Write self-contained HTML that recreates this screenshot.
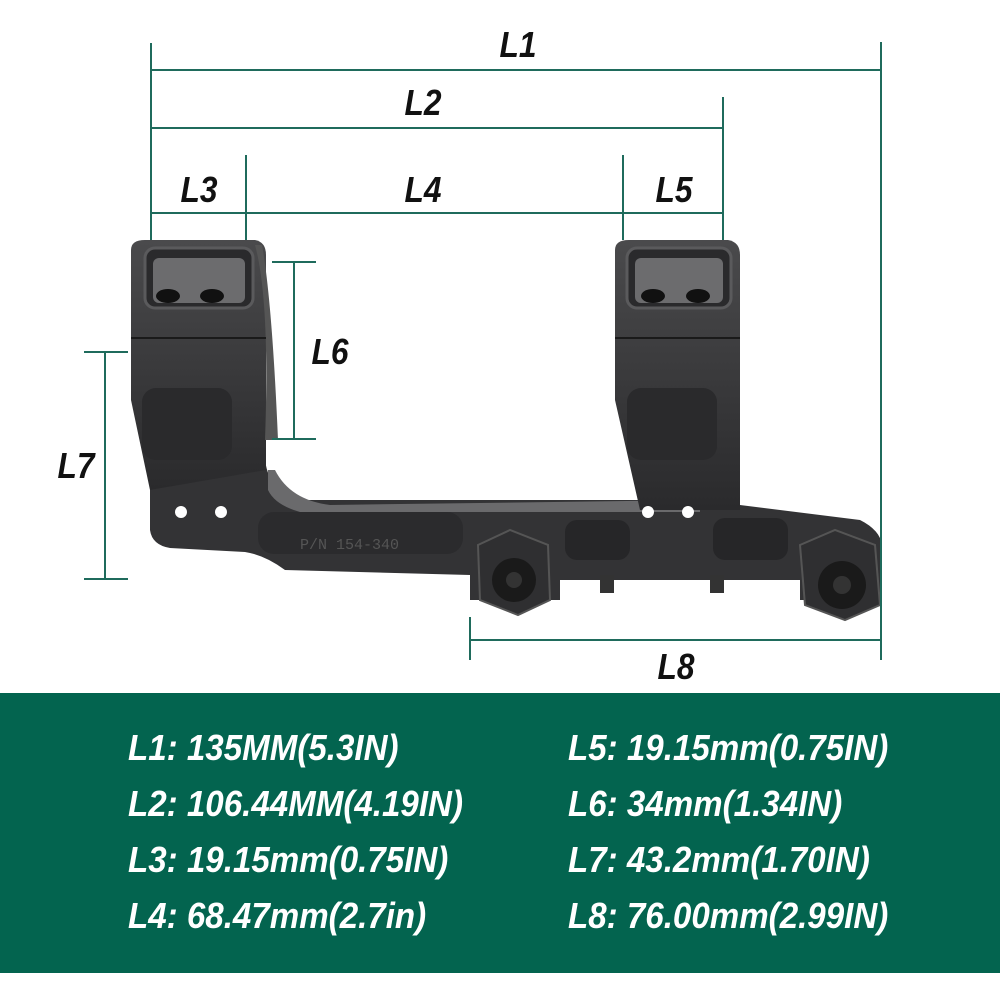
<!DOCTYPE html>
<html><head><meta charset="utf-8"><style>
html,body{margin:0;padding:0;background:#fff;}
body{width:1000px;height:1000px;position:relative;overflow:hidden;font-family:"Liberation Sans Narrow","Liberation Sans",sans-serif;}
.lbl{position:absolute;font-weight:bold;font-style:italic;font-size:36px;color:#111;transform:translate(-50%,-50%) scaleX(0.88);line-height:1;}
.panel{position:absolute;left:0;top:693px;width:1000px;height:280px;background:#03644f;}
.row{position:absolute;color:#fff;font-weight:bold;font-style:italic;font-size:36px;line-height:1;white-space:nowrap;transform-origin:left center;transform:scaleX(0.92);}
</style></head><body>
<svg width="1000" height="700" style="position:absolute;left:0;top:0">
<defs>
<linearGradient id="g" x1="0" y1="0" x2="0" y2="1"><stop offset="0" stop-color="#4a4a4c"/><stop offset="1" stop-color="#2a2a2c"/></linearGradient>
</defs>
<path d="M150,480 L150,530 Q152,545 170,548 L245,552 Q265,555 285,570 L470,575 L470,600 L560,600 L560,580 L800,580 L800,600 L880,600 L882,545 Q880,530 860,520 L740,505 L740,470 L700,470 L700,500 L300,500 Q270,495 265,460 L265,470 L150,470 Z" fill="#333335"/>
<path d="M330,505 Q290,500 275,470 L268,470 L268,490 Q275,505 300,512 L700,512 L700,500 Z" fill="#6a6a6c"/>
<path d="M131,250 Q131,240 145,240 L255,240 Q266,242 266,255 L266,470 L150,490 L131,400 Z" fill="url(#g)"/>
<path d="M255,245 Q270,300 265,440 L278,440 Q272,300 262,245 Z" fill="#555"/>
<rect x="145" y="248" width="108" height="60" rx="10" fill="#2a2a2c" stroke="#5a5a5c" stroke-width="3"/>
<rect x="153" y="258" width="92" height="45" rx="6" fill="#6c6c6e"/>
<ellipse cx="168" cy="296" rx="12" ry="7" fill="#111"/><ellipse cx="212" cy="296" rx="12" ry="7" fill="#111"/>
<line x1="131" y1="338" x2="266" y2="338" stroke="#1a1a1a" stroke-width="2"/>
<rect x="142" y="388" width="90" height="72" rx="14" fill="#2a2a2c"/>
<circle cx="181" cy="512" r="6" fill="#fff"/><circle cx="221" cy="512" r="6" fill="#fff"/>
<path d="M615,250 Q615,240 629,240 L728,240 Q740,242 740,255 L740,510 L640,510 L615,400 Z" fill="url(#g)"/>
<rect x="627" y="248" width="104" height="60" rx="10" fill="#2a2a2c" stroke="#5a5a5c" stroke-width="3"/>
<rect x="635" y="258" width="88" height="45" rx="6" fill="#6c6c6e"/>
<ellipse cx="653" cy="296" rx="12" ry="7" fill="#111"/><ellipse cx="698" cy="296" rx="12" ry="7" fill="#111"/>
<line x1="615" y1="338" x2="740" y2="338" stroke="#1a1a1a" stroke-width="2"/>
<rect x="627" y="388" width="90" height="72" rx="14" fill="#2a2a2c"/>
<circle cx="648" cy="512" r="6" fill="#fff"/><circle cx="688" cy="512" r="6" fill="#fff"/>
<rect x="258" y="512" width="205" height="42" rx="16" fill="#2b2b2d"/>
<text x="300" y="549" font-family="Liberation Mono" font-size="15" fill="#555">P/N 154-340</text>
<rect x="565" y="520" width="65" height="40" rx="12" fill="#262628"/>
<rect x="713" y="518" width="75" height="42" rx="12" fill="#262628"/>
<rect x="600" y="575" width="14" height="18" fill="#333"/><rect x="710" y="575" width="14" height="18" fill="#333"/>
<polygon points="478,545 510,530 548,545 550,600 518,615 480,600" fill="#2f2f31" stroke="#555" stroke-width="2"/>
<circle cx="514" cy="580" r="22" fill="#1a1a1a"/><circle cx="514" cy="580" r="8" fill="#333"/>
<polygon points="800,545 835,530 875,545 880,605 845,620 805,605" fill="#2f2f31" stroke="#555" stroke-width="2"/>
<circle cx="842" cy="585" r="24" fill="#1a1a1a"/><circle cx="842" cy="585" r="9" fill="#333"/>
<g stroke="#1f6b5c" stroke-width="2" fill="none">
<line x1="151" y1="43" x2="151" y2="240"/><line x1="881" y1="42" x2="881" y2="660"/>
<line x1="151" y1="70" x2="881" y2="70"/>
<line x1="151" y1="128" x2="723" y2="128"/><line x1="723" y1="97" x2="723" y2="240"/>
<line x1="151" y1="213" x2="723" y2="213"/>
<line x1="246" y1="155" x2="246" y2="240"/><line x1="623" y1="155" x2="623" y2="240"/>
<line x1="294" y1="262" x2="294" y2="439"/><line x1="272" y1="262" x2="316" y2="262"/><line x1="272" y1="439" x2="316" y2="439"/>
<line x1="105" y1="352" x2="105" y2="579"/><line x1="84" y1="352" x2="128" y2="352"/><line x1="84" y1="579" x2="128" y2="579"/>
<line x1="470" y1="640" x2="881" y2="640"/><line x1="470" y1="617" x2="470" y2="660"/>
</g>
</svg>
<div class="lbl" style="left:518px;top:45px">L1</div>
<div class="lbl" style="left:423px;top:103px">L2</div>
<div class="lbl" style="left:199px;top:190px">L3</div>
<div class="lbl" style="left:423px;top:190px">L4</div>
<div class="lbl" style="left:674px;top:190px">L5</div>
<div class="lbl" style="left:330px;top:352px">L6</div>
<div class="lbl" style="left:76px;top:466px">L7</div>
<div class="lbl" style="left:676px;top:667px">L8</div>
<div class="panel"></div>
<div class="row" style="left:128px;top:730px">L1: 135MM(5.3IN)</div>
<div class="row" style="left:128px;top:786px">L2: 106.44MM(4.19IN)</div>
<div class="row" style="left:128px;top:842px">L3: 19.15mm(0.75IN)</div>
<div class="row" style="left:128px;top:898px">L4: 68.47mm(2.7in)</div>
<div class="row" style="left:568px;top:730px">L5: 19.15mm(0.75IN)</div>
<div class="row" style="left:568px;top:786px">L6: 34mm(1.34IN)</div>
<div class="row" style="left:568px;top:842px">L7: 43.2mm(1.70IN)</div>
<div class="row" style="left:568px;top:898px">L8: 76.00mm(2.99IN)</div>
</body></html>
